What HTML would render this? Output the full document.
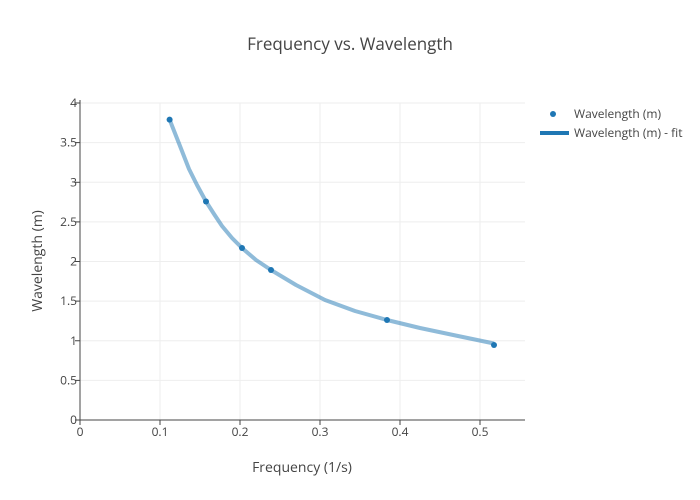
<!DOCTYPE html>
<html><head><meta charset="utf-8"><style>body{margin:0;background:#fff}svg{display:block;font-family:"Open Sans","Liberation Sans",sans-serif}</style></head><body>
<svg width="700" height="500" xmlns="http://www.w3.org/2000/svg">
<rect width="700" height="500" fill="#fff"/>
<g stroke="#eee" stroke-width="1">
<line x1="160" y1="103" x2="160" y2="420"/><line x1="240" y1="103" x2="240" y2="420"/><line x1="320" y1="103" x2="320" y2="420"/><line x1="400" y1="103" x2="400" y2="420"/><line x1="480" y1="103" x2="480" y2="420"/>
<line x1="80" y1="380.4" x2="525" y2="380.4"/><line x1="80" y1="340.75" x2="525" y2="340.75"/><line x1="80" y1="301.1" x2="525" y2="301.1"/><line x1="80" y1="261.5" x2="525" y2="261.5"/><line x1="80" y1="221.9" x2="525" y2="221.9"/><line x1="80" y1="182.3" x2="525" y2="182.3"/><line x1="80" y1="142.6" x2="525" y2="142.6"/><line x1="80" y1="103" x2="525" y2="103"/>
</g>
<g stroke="#444" stroke-width="1">
<line x1="80" y1="100" x2="80" y2="420.5"/><line x1="79.5" y1="420" x2="525" y2="420"/>
<line x1="80" y1="420" x2="80" y2="425"/><line x1="160" y1="420" x2="160" y2="425"/><line x1="240" y1="420" x2="240" y2="425"/><line x1="320" y1="420" x2="320" y2="425"/><line x1="400" y1="420" x2="400" y2="425"/><line x1="480" y1="420" x2="480" y2="425"/>
<line x1="75" y1="420" x2="80" y2="420"/><line x1="75" y1="380.4" x2="80" y2="380.4"/><line x1="75" y1="340.75" x2="80" y2="340.75"/><line x1="75" y1="301.1" x2="80" y2="301.1"/><line x1="75" y1="261.5" x2="80" y2="261.5"/><line x1="75" y1="221.9" x2="80" y2="221.9"/><line x1="75" y1="182.3" x2="80" y2="182.3"/><line x1="75" y1="142.6" x2="80" y2="142.6"/><line x1="75" y1="103" x2="80" y2="103"/>
</g>
<g font-size="12" fill="#444" text-anchor="middle">
<text x="80" y="436">0</text><text x="160" y="436">0.1</text><text x="240" y="436">0.2</text><text x="320" y="436">0.3</text><text x="400" y="436">0.4</text><text x="480" y="436">0.5</text>
</g>
<g font-size="12" fill="#444" text-anchor="end">
<text x="77" y="424">0</text><text x="77" y="384.5">0.5</text><text x="77" y="345">1</text><text x="77" y="305">1.5</text><text x="77" y="265.5">2</text><text x="77" y="226">2.5</text><text x="77" y="186.5">3</text><text x="77" y="146.5">3.5</text><text x="77" y="107">4</text>
</g>
<text x="350" y="50" font-size="17" fill="#444" text-anchor="middle">Frequency vs. Wavelength</text>
<text x="302" y="472" font-size="14" fill="#444" text-anchor="middle">Frequency (1/s)</text>
<text transform="translate(42,261) rotate(-90)" font-size="14" fill="#444" text-anchor="middle">Wavelength (m)</text>
<polyline fill="none" stroke="#1f77b4" stroke-opacity="0.5" stroke-width="4" stroke-linejoin="round" points="169.6,119.6 180,146 189,169 197,185 206,201.5 214,214 222,226 232,238 242,248 256,260 271,270 296,285 325,300 355,311 387,320 420,328 458,336 494,343.5"/>
<g fill="#1f77b4">
<circle cx="169.6" cy="119.6" r="3"/><circle cx="206" cy="201.5" r="3"/><circle cx="242" cy="248" r="3"/><circle cx="271" cy="270" r="3"/><circle cx="387" cy="320" r="3"/><circle cx="494" cy="345" r="3"/>
<circle cx="553" cy="114" r="3"/>
</g>
<line x1="540" y1="133" x2="569" y2="133" stroke="#1f77b4" stroke-width="4"/>
<text x="574" y="118" font-size="12" fill="#444">Wavelength (m)</text>
<text x="574" y="137" font-size="12" fill="#444">Wavelength (m) - fit</text>
</svg>
</body></html>
